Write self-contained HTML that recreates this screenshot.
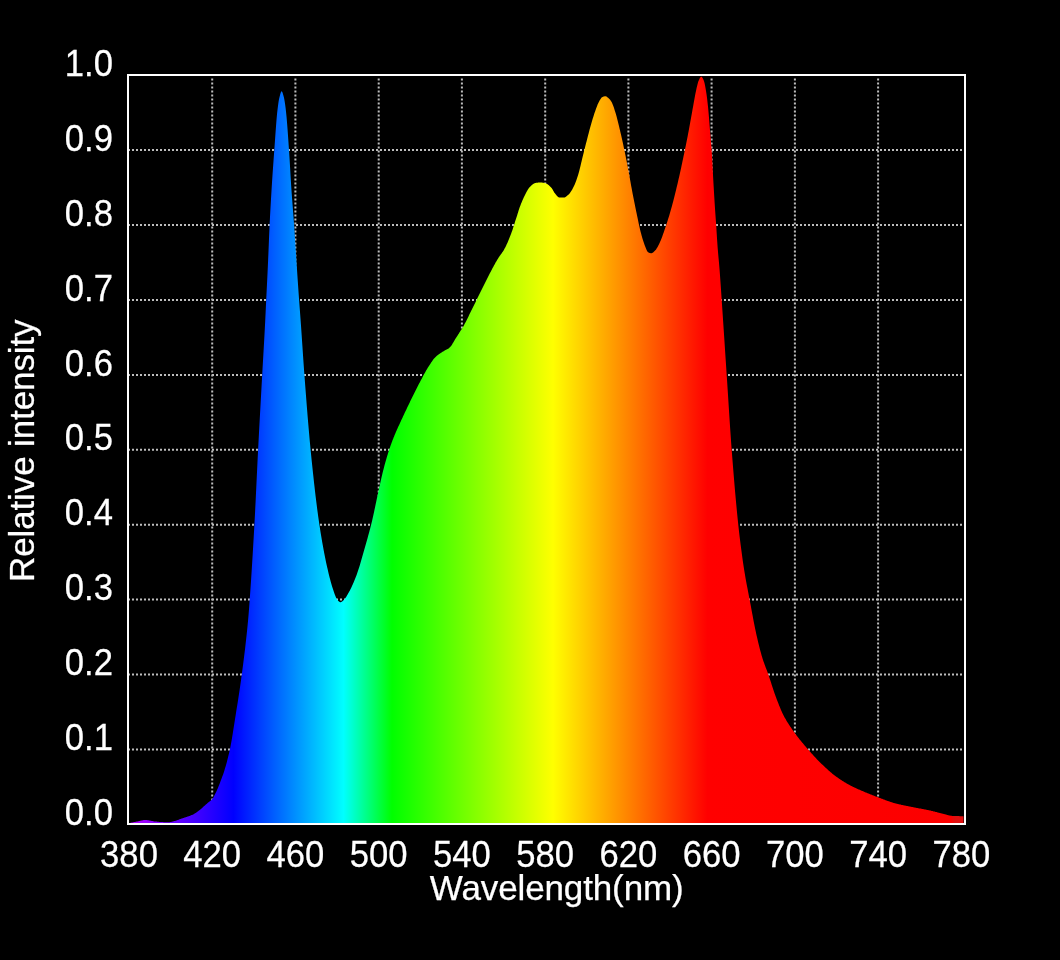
<!DOCTYPE html>
<html><head><meta charset="utf-8"><title>Spectrum</title>
<style>
html,body{margin:0;padding:0;background:#000;}
body{width:1060px;height:960px;overflow:hidden;position:relative;}
svg{position:absolute;left:0;top:0;display:block;}
text{font-family:"Liberation Sans",sans-serif;font-size:36.1px;fill:#fff;stroke:#fff;stroke-width:0.25px;}
text.t{font-size:35px;letter-spacing:-0.12px;}
.g line{stroke:#bdbdbd;stroke-width:2;stroke-dasharray:2 2;}
</style></head><body>
<svg width="1060" height="960" viewBox="0 0 1060 960">
<defs>
<linearGradient id="sp" gradientUnits="userSpaceOnUse" x1="128" y1="0" x2="966" y2="0">
<stop offset="0" stop-color="#b800ff"/>
<stop offset="0.1259" stop-color="#0000ff"/>
<stop offset="0.2572" stop-color="#00ffff"/>
<stop offset="0.3150" stop-color="#00ff00"/>
<stop offset="0.5072" stop-color="#ffff00"/>
<stop offset="0.6915" stop-color="#ff0000"/>
<stop offset="0.9821" stop-color="#fc0000"/>
<stop offset="0.9869" stop-color="#e01010"/>
<stop offset="1" stop-color="#e01010"/>
</linearGradient>
</defs>
<rect width="1060" height="960" fill="#000"/>
<g class="g"><line x1="212.2" y1="78.6" x2="212.2" y2="823"/><line x1="295.4" y1="78.6" x2="295.4" y2="823"/><line x1="378.7" y1="78.6" x2="378.7" y2="823"/><line x1="461.9" y1="78.6" x2="461.9" y2="823"/><line x1="545.2" y1="78.6" x2="545.2" y2="823"/><line x1="628.4" y1="78.6" x2="628.4" y2="823"/><line x1="711.6" y1="78.6" x2="711.6" y2="823"/><line x1="794.9" y1="78.6" x2="794.9" y2="823"/><line x1="878.1" y1="78.6" x2="878.1" y2="823"/><line x1="128" y1="749.5" x2="964" y2="749.5"/><line x1="128" y1="674.6" x2="964" y2="674.6"/><line x1="128" y1="599.6" x2="964" y2="599.6"/><line x1="128" y1="524.7" x2="964" y2="524.7"/><line x1="128" y1="449.8" x2="964" y2="449.8"/><line x1="128" y1="374.9" x2="964" y2="374.9"/><line x1="128" y1="300.0" x2="964" y2="300.0"/><line x1="128" y1="225.0" x2="964" y2="225.0"/><line x1="128" y1="150.1" x2="964" y2="150.1"/></g>
<path d="M128.6 824 L128.6 823.5 L129.1 823.3 L129.6 823.1 L130.1 823.0 L130.6 822.8 L131.1 822.7 L131.6 822.6 L132.1 822.5 L132.6 822.4 L133.1 822.3 L133.6 822.2 L134.1 822.1 L134.6 822.0 L135.1 821.9 L135.6 821.8 L136.1 821.7 L136.6 821.6 L137.1 821.5 L137.6 821.4 L138.1 821.3 L138.6 821.2 L139.1 821.0 L139.6 820.9 L140.1 820.8 L140.6 820.7 L141.1 820.6 L141.6 820.5 L142.1 820.4 L142.6 820.3 L143.1 820.2 L143.6 820.1 L144.1 820.1 L144.6 820.0 L145.1 820.0 L145.6 820.0 L146.1 820.0 L146.6 820.1 L147.1 820.1 L147.6 820.2 L148.1 820.2 L148.6 820.3 L149.1 820.4 L149.6 820.5 L150.1 820.6 L150.6 820.7 L151.1 820.8 L151.6 820.9 L152.1 821.0 L152.6 821.1 L153.1 821.2 L153.6 821.3 L154.1 821.4 L154.6 821.5 L155.1 821.5 L155.6 821.6 L156.1 821.6 L156.6 821.6 L157.1 821.7 L157.6 821.7 L158.1 821.8 L158.6 821.8 L159.1 821.9 L159.6 821.9 L160.1 821.9 L160.6 822.0 L161.1 822.0 L161.6 822.1 L162.1 822.1 L162.6 822.1 L163.1 822.1 L163.6 822.2 L164.1 822.2 L164.6 822.2 L165.1 822.2 L165.6 822.3 L166.1 822.3 L166.6 822.3 L167.1 822.3 L167.6 822.3 L168.1 822.3 L168.6 822.3 L169.1 822.2 L169.6 822.2 L170.1 822.1 L170.6 822.0 L171.1 821.9 L171.6 821.8 L172.1 821.7 L172.6 821.6 L173.1 821.4 L173.6 821.3 L174.1 821.1 L174.6 821.0 L175.1 820.9 L175.6 820.7 L176.1 820.6 L176.6 820.4 L177.1 820.3 L177.6 820.1 L178.1 819.9 L178.6 819.7 L179.1 819.5 L179.6 819.3 L180.1 819.1 L180.6 819.0 L181.1 818.8 L181.6 818.6 L182.1 818.4 L182.6 818.3 L183.1 818.1 L183.6 817.9 L184.1 817.8 L184.6 817.6 L185.1 817.5 L185.6 817.3 L186.1 817.1 L186.6 817.0 L187.1 816.8 L187.6 816.6 L188.1 816.5 L188.6 816.3 L189.1 816.1 L189.6 815.9 L190.1 815.7 L190.6 815.5 L191.1 815.3 L191.6 815.1 L192.1 814.9 L192.6 814.7 L193.1 814.5 L193.6 814.2 L194.1 813.9 L194.6 813.6 L195.1 813.3 L195.6 813.0 L196.1 812.7 L196.6 812.3 L197.1 812.0 L197.6 811.6 L198.1 811.2 L198.6 810.8 L199.1 810.5 L199.6 810.1 L200.1 809.7 L200.6 809.3 L201.1 808.8 L201.6 808.4 L202.1 807.9 L202.6 807.5 L203.1 807.0 L203.6 806.5 L204.1 806.1 L204.6 805.7 L205.1 805.2 L205.6 804.8 L206.1 804.3 L206.6 803.9 L207.1 803.5 L207.6 803.1 L208.1 802.6 L208.6 802.2 L209.1 801.8 L209.6 801.5 L210.1 801.1 L210.6 800.7 L211.1 800.3 L211.6 799.8 L212.1 799.3 L212.6 798.6 L213.1 797.9 L213.6 797.0 L214.1 796.1 L214.6 795.1 L215.1 794.1 L215.6 793.0 L216.1 791.9 L216.6 790.9 L217.1 789.8 L217.6 788.7 L218.1 787.5 L218.6 786.3 L219.1 785.0 L219.6 783.7 L220.1 782.4 L220.6 781.1 L221.1 779.7 L221.6 778.4 L222.1 777.1 L222.6 775.8 L223.1 774.4 L223.6 772.9 L224.1 771.4 L224.6 769.8 L225.1 768.1 L225.6 766.4 L226.1 764.7 L226.6 762.9 L227.1 761.1 L227.6 759.1 L228.1 757.1 L228.6 755.1 L229.1 752.9 L229.6 750.7 L230.1 748.4 L230.6 745.9 L231.1 743.2 L231.6 740.4 L232.1 737.4 L232.6 734.4 L233.1 731.3 L233.6 728.1 L234.1 724.9 L234.6 721.7 L235.1 718.5 L235.6 715.4 L236.1 712.3 L236.6 709.1 L237.1 706.0 L237.6 702.9 L238.1 699.7 L238.6 696.4 L239.1 693.2 L239.6 689.9 L240.1 686.5 L240.6 683.0 L241.1 679.4 L241.6 675.8 L242.1 672.0 L242.6 668.3 L243.1 664.5 L243.6 660.6 L244.1 656.6 L244.6 652.6 L245.1 648.4 L245.6 644.1 L246.1 639.6 L246.6 635.0 L247.1 630.2 L247.6 625.2 L248.1 620.0 L248.6 614.3 L249.1 607.9 L249.6 601.1 L250.1 594.1 L250.6 586.8 L251.1 579.4 L251.6 571.7 L252.1 563.8 L252.6 555.7 L253.1 547.3 L253.6 538.8 L254.1 530.0 L254.6 521.1 L255.1 511.5 L255.6 501.4 L256.1 491.0 L256.6 480.4 L257.1 469.9 L257.6 459.6 L258.1 449.7 L258.6 440.2 L259.1 430.8 L259.6 421.6 L260.1 412.5 L260.6 403.4 L261.1 394.4 L261.6 385.5 L262.1 376.5 L262.6 367.6 L263.1 358.9 L263.6 350.3 L264.1 341.6 L264.6 332.6 L265.1 323.0 L265.6 312.7 L266.1 302.1 L266.6 291.8 L267.1 281.8 L267.6 271.5 L268.1 260.5 L268.6 248.4 L269.1 236.2 L269.6 225.0 L270.1 215.1 L270.6 205.9 L271.1 197.2 L271.6 189.0 L272.1 181.1 L272.6 173.6 L273.1 166.4 L273.6 159.5 L274.1 152.6 L274.6 145.8 L275.1 138.7 L275.6 131.7 L276.1 125.0 L276.6 118.7 L277.1 113.3 L277.6 108.9 L278.1 105.0 L278.6 101.6 L279.1 98.8 L279.6 96.7 L280.1 94.7 L280.6 93.0 L281.1 91.8 L281.6 91.3 L282.1 91.7 L282.6 92.8 L283.1 94.5 L283.6 96.3 L284.1 98.3 L284.6 101.0 L285.1 104.3 L285.6 108.1 L286.1 112.4 L286.6 117.5 L287.1 123.5 L287.6 130.0 L288.1 137.0 L288.6 144.2 L289.1 151.5 L289.6 159.3 L290.1 167.7 L290.6 176.2 L291.1 184.4 L291.6 191.9 L292.1 198.7 L292.6 205.2 L293.1 211.6 L293.6 218.1 L294.1 225.0 L294.6 232.4 L295.1 240.1 L295.6 247.9 L296.1 255.8 L296.6 263.5 L297.1 271.0 L297.6 278.4 L298.1 285.7 L298.6 293.0 L299.1 300.0 L299.6 306.7 L300.1 313.3 L300.6 320.0 L301.1 327.0 L301.6 334.3 L302.1 341.7 L302.6 349.1 L303.1 356.5 L303.6 363.7 L304.1 370.7 L304.6 377.3 L305.1 383.9 L305.6 390.5 L306.1 397.0 L306.6 403.4 L307.1 409.7 L307.6 415.9 L308.1 421.9 L308.6 427.8 L309.1 433.6 L309.6 439.2 L310.1 444.5 L310.6 449.7 L311.1 454.7 L311.6 459.7 L312.1 464.5 L312.6 469.3 L313.1 474.0 L313.6 478.6 L314.1 483.2 L314.6 487.6 L315.1 491.9 L315.6 496.2 L316.1 500.3 L316.6 504.3 L317.1 508.2 L317.6 512.0 L318.1 515.7 L318.6 519.3 L319.1 522.7 L319.6 526.0 L320.1 529.2 L320.6 532.4 L321.1 535.5 L321.6 538.5 L322.1 541.4 L322.6 544.3 L323.1 547.1 L323.6 549.8 L324.1 552.4 L324.6 555.0 L325.1 557.5 L325.6 560.0 L326.1 562.4 L326.6 564.7 L327.1 566.9 L327.6 569.1 L328.1 571.3 L328.6 573.4 L329.1 575.4 L329.6 577.4 L330.1 579.3 L330.6 581.2 L331.1 583.0 L331.6 584.7 L332.1 586.4 L332.6 588.0 L333.1 589.5 L333.6 591.0 L334.1 592.4 L334.6 593.9 L335.1 595.3 L335.6 596.6 L336.1 597.8 L336.6 598.7 L337.1 599.4 L337.6 600.1 L338.1 600.7 L338.6 601.2 L339.1 601.6 L339.6 602.0 L340.1 602.2 L340.6 602.2 L341.1 602.1 L341.6 601.8 L342.1 601.5 L342.6 601.1 L343.1 600.6 L343.6 600.2 L344.1 599.7 L344.6 599.2 L345.1 598.5 L345.6 597.8 L346.1 597.0 L346.6 596.2 L347.1 595.3 L347.6 594.5 L348.1 593.6 L348.6 592.8 L349.1 591.8 L349.6 590.9 L350.1 589.9 L350.6 588.9 L351.1 587.9 L351.6 586.9 L352.1 585.8 L352.6 584.7 L353.1 583.6 L353.6 582.4 L354.1 581.2 L354.6 580.0 L355.1 578.8 L355.6 577.5 L356.1 576.3 L356.6 574.9 L357.1 573.6 L357.6 572.1 L358.1 570.6 L358.6 569.1 L359.1 567.5 L359.6 565.9 L360.1 564.2 L360.6 562.5 L361.1 560.8 L361.6 559.1 L362.1 557.3 L362.6 555.6 L363.1 553.8 L363.6 552.0 L364.1 550.2 L364.6 548.5 L365.1 546.7 L365.6 545.0 L366.1 543.2 L366.6 541.5 L367.1 539.7 L367.6 537.9 L368.1 536.1 L368.6 534.3 L369.1 532.5 L369.6 530.6 L370.1 528.7 L370.6 526.8 L371.1 524.8 L371.6 522.8 L372.1 520.7 L372.6 518.6 L373.1 516.3 L373.6 514.0 L374.1 511.7 L374.6 509.3 L375.1 506.9 L375.6 504.5 L376.1 502.2 L376.6 499.8 L377.1 497.5 L377.6 495.3 L378.1 492.9 L378.6 490.6 L379.1 488.3 L379.6 486.0 L380.1 483.7 L380.6 481.4 L381.1 479.2 L381.6 477.0 L382.1 474.9 L382.6 472.8 L383.1 470.8 L383.6 468.9 L384.1 466.9 L384.6 465.1 L385.1 463.2 L385.6 461.5 L386.1 459.7 L386.6 458.0 L387.1 456.3 L387.6 454.7 L388.1 453.1 L388.6 451.5 L389.1 450.0 L389.6 448.5 L390.1 447.0 L390.6 445.6 L391.1 444.2 L391.6 442.8 L392.1 441.5 L392.6 440.1 L393.1 438.9 L393.6 437.6 L394.1 436.4 L394.6 435.1 L395.1 433.9 L395.6 432.8 L396.1 431.6 L396.6 430.5 L397.1 429.3 L397.6 428.2 L398.1 427.1 L398.6 426.0 L399.1 425.0 L399.6 423.9 L400.1 422.8 L400.6 421.7 L401.1 420.6 L401.6 419.5 L402.1 418.5 L402.6 417.4 L403.1 416.3 L403.6 415.2 L404.1 414.2 L404.6 413.1 L405.1 412.1 L405.6 411.0 L406.1 409.9 L406.6 408.9 L407.1 407.8 L407.6 406.8 L408.1 405.8 L408.6 404.7 L409.1 403.7 L409.6 402.7 L410.1 401.6 L410.6 400.6 L411.1 399.6 L411.6 398.6 L412.1 397.5 L412.6 396.5 L413.1 395.5 L413.6 394.5 L414.1 393.5 L414.6 392.5 L415.1 391.5 L415.6 390.5 L416.1 389.5 L416.6 388.5 L417.1 387.5 L417.6 386.5 L418.1 385.5 L418.6 384.6 L419.1 383.6 L419.6 382.7 L420.1 381.7 L420.6 380.8 L421.1 379.8 L421.6 378.9 L422.1 377.9 L422.6 377.0 L423.1 376.0 L423.6 375.1 L424.1 374.2 L424.6 373.3 L425.1 372.4 L425.6 371.5 L426.1 370.6 L426.6 369.8 L427.1 368.9 L427.6 368.1 L428.1 367.3 L428.6 366.5 L429.1 365.7 L429.6 365.0 L430.1 364.2 L430.6 363.4 L431.1 362.6 L431.6 361.9 L432.1 361.2 L432.6 360.5 L433.1 359.8 L433.6 359.1 L434.1 358.5 L434.6 357.9 L435.1 357.4 L435.6 356.9 L436.1 356.4 L436.6 356.0 L437.1 355.6 L437.6 355.2 L438.1 354.8 L438.6 354.4 L439.1 354.1 L439.6 353.7 L440.1 353.4 L440.6 353.1 L441.1 352.8 L441.6 352.5 L442.1 352.1 L442.6 351.8 L443.1 351.5 L443.6 351.2 L444.1 350.9 L444.6 350.6 L445.1 350.3 L445.6 350.1 L446.1 349.8 L446.6 349.5 L447.1 349.3 L447.6 349.0 L448.1 348.7 L448.6 348.4 L449.1 348.0 L449.6 347.6 L450.1 347.1 L450.6 346.6 L451.1 345.9 L451.6 345.2 L452.1 344.4 L452.6 343.6 L453.1 342.8 L453.6 341.9 L454.1 341.0 L454.6 340.2 L455.1 339.3 L455.6 338.5 L456.1 337.7 L456.6 336.9 L457.1 336.2 L457.6 335.4 L458.1 334.6 L458.6 333.9 L459.1 333.1 L459.6 332.3 L460.1 331.6 L460.6 330.8 L461.1 330.0 L461.6 329.2 L462.1 328.4 L462.6 327.6 L463.1 326.7 L463.6 325.9 L464.1 325.0 L464.6 324.1 L465.1 323.1 L465.6 322.2 L466.1 321.2 L466.6 320.2 L467.1 319.2 L467.6 318.2 L468.1 317.2 L468.6 316.2 L469.1 315.1 L469.6 314.1 L470.1 313.1 L470.6 312.0 L471.1 311.0 L471.6 310.0 L472.1 308.9 L472.6 307.9 L473.1 306.9 L473.6 305.9 L474.1 304.9 L474.6 303.9 L475.1 302.9 L475.6 301.9 L476.1 300.9 L476.6 299.9 L477.1 298.8 L477.6 297.8 L478.1 296.8 L478.6 295.8 L479.1 294.8 L479.6 293.8 L480.1 292.8 L480.6 291.8 L481.1 290.8 L481.6 289.8 L482.1 288.8 L482.6 287.8 L483.1 286.8 L483.6 285.8 L484.1 284.8 L484.6 283.8 L485.1 282.8 L485.6 281.8 L486.1 280.8 L486.6 279.8 L487.1 278.7 L487.6 277.7 L488.1 276.7 L488.6 275.8 L489.1 274.8 L489.6 273.8 L490.1 272.8 L490.6 271.9 L491.1 270.9 L491.6 270.0 L492.1 269.0 L492.6 268.1 L493.1 267.2 L493.6 266.3 L494.1 265.3 L494.6 264.4 L495.1 263.5 L495.6 262.6 L496.1 261.8 L496.6 260.9 L497.1 260.1 L497.6 259.2 L498.1 258.4 L498.6 257.6 L499.1 256.9 L499.6 256.1 L500.1 255.4 L500.6 254.7 L501.1 254.0 L501.6 253.4 L502.1 252.6 L502.6 251.9 L503.1 251.2 L503.6 250.4 L504.1 249.5 L504.6 248.6 L505.1 247.7 L505.6 246.7 L506.1 245.7 L506.6 244.6 L507.1 243.5 L507.6 242.4 L508.1 241.2 L508.6 240.0 L509.1 238.8 L509.6 237.5 L510.1 236.3 L510.6 235.0 L511.1 233.7 L511.6 232.3 L512.1 230.9 L512.6 229.4 L513.1 227.9 L513.6 226.3 L514.1 224.8 L514.6 223.2 L515.1 221.6 L515.6 220.0 L516.1 218.5 L516.6 216.9 L517.1 215.4 L517.6 213.8 L518.1 212.2 L518.6 210.6 L519.1 209.1 L519.6 207.6 L520.1 206.2 L520.6 204.9 L521.1 203.6 L521.6 202.4 L522.1 201.2 L522.6 200.0 L523.1 198.9 L523.6 197.8 L524.1 196.8 L524.6 195.8 L525.1 194.8 L525.6 193.8 L526.1 192.8 L526.6 191.8 L527.1 190.9 L527.6 190.0 L528.1 189.2 L528.6 188.5 L529.1 187.8 L529.6 187.2 L530.1 186.7 L530.6 186.2 L531.1 185.7 L531.6 185.3 L532.1 184.8 L532.6 184.4 L533.1 184.0 L533.6 183.7 L534.1 183.4 L534.6 183.2 L535.1 183.0 L535.6 182.9 L536.1 182.8 L536.6 182.8 L537.1 182.7 L537.6 182.7 L538.1 182.6 L538.6 182.6 L539.1 182.5 L539.6 182.5 L540.1 182.5 L540.6 182.5 L541.1 182.5 L541.6 182.5 L542.1 182.6 L542.6 182.7 L543.1 182.7 L543.6 182.8 L544.1 183.0 L544.6 183.1 L545.1 183.2 L545.6 183.4 L546.1 183.5 L546.6 183.7 L547.1 184.0 L547.6 184.3 L548.1 184.7 L548.6 185.1 L549.1 185.5 L549.6 186.0 L550.1 186.5 L550.6 187.0 L551.1 187.5 L551.6 188.1 L552.1 188.8 L552.6 189.6 L553.1 190.5 L553.6 191.3 L554.1 192.2 L554.6 193.0 L555.1 193.6 L555.6 194.2 L556.1 194.8 L556.6 195.4 L557.1 195.9 L557.6 196.4 L558.1 196.9 L558.6 197.2 L559.1 197.4 L559.6 197.5 L560.1 197.5 L560.6 197.5 L561.1 197.5 L561.6 197.5 L562.1 197.5 L562.6 197.5 L563.1 197.5 L563.6 197.5 L564.1 197.5 L564.6 197.4 L565.1 197.2 L565.6 196.9 L566.1 196.6 L566.6 196.2 L567.1 195.8 L567.6 195.3 L568.1 194.9 L568.6 194.4 L569.1 193.9 L569.6 193.4 L570.1 192.8 L570.6 192.1 L571.1 191.3 L571.6 190.5 L572.1 189.7 L572.6 188.8 L573.1 187.8 L573.6 186.8 L574.1 185.8 L574.6 184.7 L575.1 183.6 L575.6 182.3 L576.1 180.9 L576.6 179.5 L577.1 178.0 L577.6 176.5 L578.1 174.9 L578.6 173.2 L579.1 171.4 L579.6 169.5 L580.1 167.5 L580.6 165.4 L581.1 163.3 L581.6 161.2 L582.1 159.1 L582.6 157.1 L583.1 155.1 L583.6 153.1 L584.1 151.1 L584.6 149.1 L585.1 147.1 L585.6 145.1 L586.1 143.1 L586.6 141.2 L587.1 139.2 L587.6 137.3 L588.1 135.3 L588.6 133.4 L589.1 131.4 L589.6 129.6 L590.1 127.7 L590.6 125.9 L591.1 124.2 L591.6 122.4 L592.1 120.7 L592.6 119.1 L593.1 117.4 L593.6 115.9 L594.1 114.3 L594.6 112.8 L595.1 111.4 L595.6 110.0 L596.1 108.6 L596.6 107.2 L597.1 105.9 L597.6 104.6 L598.1 103.5 L598.6 102.4 L599.1 101.4 L599.6 100.6 L600.1 99.7 L600.6 98.9 L601.1 98.2 L601.6 97.6 L602.1 97.2 L602.6 97.0 L603.1 96.8 L603.6 96.6 L604.1 96.4 L604.6 96.3 L605.1 96.3 L605.6 96.3 L606.1 96.4 L606.6 96.6 L607.1 97.0 L607.6 97.4 L608.1 97.8 L608.6 98.2 L609.1 98.7 L609.6 99.2 L610.1 99.8 L610.6 100.5 L611.1 101.3 L611.6 102.1 L612.1 103.1 L612.6 104.2 L613.1 105.4 L613.6 106.8 L614.1 108.3 L614.6 109.9 L615.1 111.5 L615.6 113.1 L616.1 114.8 L616.6 116.5 L617.1 118.4 L617.6 120.4 L618.1 122.4 L618.6 124.5 L619.1 126.6 L619.6 128.7 L620.1 130.8 L620.6 132.9 L621.1 135.1 L621.6 137.3 L622.1 139.5 L622.6 141.8 L623.1 144.1 L623.6 146.4 L624.1 148.7 L624.6 151.1 L625.1 153.6 L625.6 156.1 L626.1 158.6 L626.6 161.1 L627.1 163.7 L627.6 166.3 L628.1 168.9 L628.6 171.6 L629.1 174.3 L629.6 177.0 L630.1 179.8 L630.6 182.6 L631.1 185.4 L631.6 188.1 L632.1 190.8 L632.6 193.4 L633.1 196.0 L633.6 198.5 L634.1 201.1 L634.6 203.6 L635.1 206.0 L635.6 208.5 L636.1 210.9 L636.6 213.3 L637.1 215.7 L637.6 218.1 L638.1 220.5 L638.6 222.9 L639.1 225.3 L639.6 227.5 L640.1 229.7 L640.6 231.7 L641.1 233.6 L641.6 235.5 L642.1 237.2 L642.6 238.9 L643.1 240.6 L643.6 242.1 L644.1 243.6 L644.6 245.0 L645.1 246.2 L645.6 247.5 L646.1 248.8 L646.6 250.0 L647.1 251.0 L647.6 251.8 L648.1 252.3 L648.6 252.6 L649.1 252.8 L649.6 253.0 L650.1 253.1 L650.6 253.2 L651.1 253.3 L651.6 253.3 L652.1 253.1 L652.6 252.8 L653.1 252.5 L653.6 252.0 L654.1 251.6 L654.6 251.0 L655.1 250.5 L655.6 250.0 L656.1 249.4 L656.6 248.6 L657.1 247.8 L657.6 246.9 L658.1 246.0 L658.6 245.0 L659.1 243.9 L659.6 242.9 L660.1 241.8 L660.6 240.7 L661.1 239.5 L661.6 238.2 L662.1 236.9 L662.6 235.5 L663.1 234.1 L663.6 232.7 L664.1 231.3 L664.6 229.8 L665.1 228.3 L665.6 226.8 L666.1 225.4 L666.6 223.8 L667.1 222.3 L667.6 220.7 L668.1 219.1 L668.6 217.5 L669.1 215.9 L669.6 214.2 L670.1 212.5 L670.6 210.7 L671.1 209.0 L671.6 207.2 L672.1 205.4 L672.6 203.6 L673.1 201.7 L673.6 199.8 L674.1 197.8 L674.6 195.8 L675.1 193.8 L675.6 191.8 L676.1 189.7 L676.6 187.6 L677.1 185.5 L677.6 183.4 L678.1 181.3 L678.6 179.1 L679.1 176.9 L679.6 174.7 L680.1 172.4 L680.6 170.2 L681.1 167.9 L681.6 165.5 L682.1 163.2 L682.6 160.8 L683.1 158.5 L683.6 156.1 L684.1 153.7 L684.6 151.2 L685.1 148.8 L685.6 146.4 L686.1 143.9 L686.6 141.4 L687.1 138.9 L687.6 136.4 L688.1 133.8 L688.6 131.2 L689.1 128.5 L689.6 125.8 L690.1 123.1 L690.6 120.3 L691.1 117.5 L691.6 114.7 L692.1 111.9 L692.6 109.1 L693.1 106.4 L693.6 103.6 L694.1 100.7 L694.6 97.9 L695.1 95.2 L695.6 92.7 L696.1 90.4 L696.6 88.1 L697.1 85.9 L697.6 83.9 L698.1 82.1 L698.6 80.7 L699.1 79.7 L699.6 78.6 L700.1 77.7 L700.6 77.1 L701.1 76.7 L701.6 76.8 L702.1 77.3 L702.6 78.0 L703.1 79.0 L703.6 80.1 L704.1 81.4 L704.6 83.3 L705.1 85.7 L705.6 88.5 L706.1 91.4 L706.6 94.7 L707.1 98.6 L707.6 102.9 L708.1 107.5 L708.6 112.9 L709.1 119.0 L709.6 125.4 L710.1 131.6 L710.6 137.4 L711.1 143.3 L711.6 149.8 L712.1 157.8 L712.6 167.2 L713.1 176.8 L713.6 185.6 L714.1 194.1 L714.6 202.3 L715.1 209.9 L715.6 217.0 L716.1 224.0 L716.6 231.7 L717.1 239.7 L717.6 247.0 L718.1 253.1 L718.6 258.6 L719.1 264.1 L719.6 270.0 L720.1 276.7 L720.6 283.8 L721.1 291.1 L721.6 298.5 L722.1 305.9 L722.6 313.2 L723.1 320.7 L723.6 328.2 L724.1 335.7 L724.6 343.3 L725.1 350.9 L725.6 358.4 L726.1 366.0 L726.6 373.5 L727.1 381.1 L727.6 388.8 L728.1 396.6 L728.6 404.4 L729.1 412.2 L729.6 419.9 L730.1 427.5 L730.6 434.8 L731.1 441.9 L731.6 448.7 L732.1 455.2 L732.6 461.6 L733.1 467.8 L733.6 474.0 L734.1 480.0 L734.6 485.9 L735.1 491.7 L735.6 497.3 L736.1 502.8 L736.6 508.1 L737.1 513.3 L737.6 518.3 L738.1 523.1 L738.6 527.8 L739.1 532.2 L739.6 536.4 L740.1 540.5 L740.6 544.4 L741.1 548.3 L741.6 552.0 L742.1 555.7 L742.6 559.4 L743.1 562.9 L743.6 566.3 L744.1 569.6 L744.6 572.6 L745.1 575.6 L745.6 578.4 L746.1 581.2 L746.6 583.9 L747.1 586.5 L747.6 589.1 L748.1 591.7 L748.6 594.3 L749.1 596.9 L749.6 599.5 L750.1 602.2 L750.6 604.8 L751.1 607.5 L751.6 610.3 L752.1 612.9 L752.6 615.6 L753.1 618.3 L753.6 620.9 L754.1 623.5 L754.6 626.0 L755.1 628.5 L755.6 630.8 L756.1 633.2 L756.6 635.4 L757.1 637.6 L757.6 639.7 L758.1 641.9 L758.6 644.0 L759.1 646.0 L759.6 648.0 L760.1 649.9 L760.6 651.8 L761.1 653.6 L761.6 655.4 L762.1 657.1 L762.6 658.7 L763.1 660.3 L763.6 661.7 L764.1 663.1 L764.6 664.5 L765.1 665.8 L765.6 667.2 L766.1 668.5 L766.6 669.8 L767.1 671.1 L767.6 672.4 L768.1 673.8 L768.6 675.3 L769.1 676.7 L769.6 678.2 L770.1 679.7 L770.6 681.3 L771.1 682.8 L771.6 684.4 L772.1 685.9 L772.6 687.4 L773.1 689.0 L773.6 690.5 L774.1 691.9 L774.6 693.4 L775.1 694.8 L775.6 696.2 L776.1 697.5 L776.6 698.9 L777.1 700.2 L777.6 701.5 L778.1 702.8 L778.6 704.1 L779.1 705.4 L779.6 706.6 L780.1 707.8 L780.6 709.0 L781.1 710.2 L781.6 711.3 L782.1 712.4 L782.6 713.5 L783.1 714.5 L783.6 715.5 L784.1 716.4 L784.6 717.4 L785.1 718.3 L785.6 719.1 L786.1 720.0 L786.6 720.9 L787.1 721.7 L787.6 722.5 L788.1 723.3 L788.6 724.1 L789.1 724.9 L789.6 725.6 L790.1 726.4 L790.6 727.1 L791.1 727.8 L791.6 728.6 L792.1 729.3 L792.6 730.0 L793.1 730.7 L793.6 731.4 L794.1 732.1 L794.6 732.8 L795.1 733.5 L795.6 734.2 L796.1 734.8 L796.6 735.5 L797.1 736.2 L797.6 736.8 L798.1 737.5 L798.6 738.1 L799.1 738.8 L799.6 739.4 L800.1 740.0 L800.6 740.6 L801.1 741.2 L801.6 741.8 L802.1 742.5 L802.6 743.1 L803.1 743.6 L803.6 744.2 L804.1 744.8 L804.6 745.4 L805.1 746.0 L805.6 746.6 L806.1 747.2 L806.6 747.7 L807.1 748.3 L807.6 748.9 L808.1 749.5 L808.6 750.1 L809.1 750.6 L809.6 751.2 L810.1 751.8 L810.6 752.3 L811.1 752.9 L811.6 753.4 L812.1 754.0 L812.6 754.6 L813.1 755.1 L813.6 755.7 L814.1 756.2 L814.6 756.7 L815.1 757.3 L815.6 757.8 L816.1 758.3 L816.6 758.9 L817.1 759.4 L817.6 759.9 L818.1 760.4 L818.6 760.9 L819.1 761.4 L819.6 761.9 L820.1 762.4 L820.6 762.9 L821.1 763.4 L821.6 763.9 L822.1 764.4 L822.6 764.8 L823.1 765.3 L823.6 765.8 L824.1 766.3 L824.6 766.8 L825.1 767.2 L825.6 767.7 L826.1 768.2 L826.6 768.6 L827.1 769.1 L827.6 769.6 L828.1 770.0 L828.6 770.5 L829.1 770.9 L829.6 771.3 L830.1 771.8 L830.6 772.2 L831.1 772.6 L831.6 773.0 L832.1 773.5 L832.6 773.9 L833.1 774.3 L833.6 774.7 L834.1 775.0 L834.6 775.4 L835.1 775.8 L835.6 776.2 L836.1 776.5 L836.6 776.9 L837.1 777.3 L837.6 777.6 L838.1 778.0 L838.6 778.3 L839.1 778.7 L839.6 779.0 L840.1 779.3 L840.6 779.7 L841.1 780.0 L841.6 780.3 L842.1 780.7 L842.6 781.0 L843.1 781.3 L843.6 781.6 L844.1 781.9 L844.6 782.2 L845.1 782.5 L845.6 782.8 L846.1 783.1 L846.6 783.4 L847.1 783.7 L847.6 784.0 L848.1 784.3 L848.6 784.5 L849.1 784.8 L849.6 785.1 L850.1 785.4 L850.6 785.6 L851.1 785.9 L851.6 786.1 L852.1 786.4 L852.6 786.6 L853.1 786.9 L853.6 787.1 L854.1 787.4 L854.6 787.6 L855.1 787.8 L855.6 788.1 L856.1 788.3 L856.6 788.5 L857.1 788.7 L857.6 789.0 L858.1 789.2 L858.6 789.4 L859.1 789.6 L859.6 789.8 L860.1 790.1 L860.6 790.3 L861.1 790.5 L861.6 790.7 L862.1 790.9 L862.6 791.1 L863.1 791.3 L863.6 791.6 L864.1 791.8 L864.6 792.0 L865.1 792.2 L865.6 792.4 L866.1 792.6 L866.6 792.8 L867.1 793.0 L867.6 793.2 L868.1 793.4 L868.6 793.6 L869.1 793.8 L869.6 794.0 L870.1 794.2 L870.6 794.4 L871.1 794.6 L871.6 794.8 L872.1 795.0 L872.6 795.2 L873.1 795.4 L873.6 795.6 L874.1 795.8 L874.6 796.0 L875.1 796.2 L875.6 796.4 L876.1 796.6 L876.6 796.8 L877.1 797.0 L877.6 797.1 L878.1 797.3 L878.6 797.5 L879.1 797.7 L879.6 797.9 L880.1 798.1 L880.6 798.3 L881.1 798.5 L881.6 798.7 L882.1 798.8 L882.6 799.0 L883.1 799.2 L883.6 799.4 L884.1 799.6 L884.6 799.8 L885.1 800.0 L885.6 800.2 L886.1 800.4 L886.6 800.5 L887.1 800.7 L887.6 800.9 L888.1 801.1 L888.6 801.3 L889.1 801.4 L889.6 801.6 L890.1 801.8 L890.6 801.9 L891.1 802.1 L891.6 802.3 L892.1 802.4 L892.6 802.6 L893.1 802.7 L893.6 802.9 L894.1 803.0 L894.6 803.2 L895.1 803.3 L895.6 803.4 L896.1 803.6 L896.6 803.7 L897.1 803.8 L897.6 803.9 L898.1 804.1 L898.6 804.2 L899.1 804.3 L899.6 804.4 L900.1 804.5 L900.6 804.6 L901.1 804.7 L901.6 804.9 L902.1 805.0 L902.6 805.1 L903.1 805.2 L903.6 805.3 L904.1 805.4 L904.6 805.5 L905.1 805.6 L905.6 805.7 L906.1 805.8 L906.6 805.9 L907.1 806.0 L907.6 806.1 L908.1 806.2 L908.6 806.3 L909.1 806.4 L909.6 806.5 L910.1 806.6 L910.6 806.7 L911.1 806.8 L911.6 806.9 L912.1 807.0 L912.6 807.1 L913.1 807.2 L913.6 807.3 L914.1 807.4 L914.6 807.5 L915.1 807.6 L915.6 807.7 L916.1 807.8 L916.6 807.9 L917.1 808.0 L917.6 808.1 L918.1 808.2 L918.6 808.3 L919.1 808.4 L919.6 808.5 L920.1 808.5 L920.6 808.6 L921.1 808.7 L921.6 808.8 L922.1 808.9 L922.6 809.0 L923.1 809.1 L923.6 809.2 L924.1 809.3 L924.6 809.4 L925.1 809.5 L925.6 809.6 L926.1 809.7 L926.6 809.8 L927.1 809.9 L927.6 810.0 L928.1 810.1 L928.6 810.2 L929.1 810.3 L929.6 810.4 L930.1 810.5 L930.6 810.6 L931.1 810.8 L931.6 810.9 L932.1 811.0 L932.6 811.1 L933.1 811.2 L933.6 811.4 L934.1 811.5 L934.6 811.6 L935.1 811.7 L935.6 811.9 L936.1 812.0 L936.6 812.1 L937.1 812.3 L937.6 812.4 L938.1 812.5 L938.6 812.7 L939.1 812.8 L939.6 812.9 L940.1 813.1 L940.6 813.2 L941.1 813.3 L941.6 813.5 L942.1 813.6 L942.6 813.7 L943.1 813.8 L943.6 813.9 L944.1 814.1 L944.6 814.2 L945.1 814.3 L945.6 814.5 L946.1 814.6 L946.6 814.7 L947.1 814.9 L947.6 815.0 L948.1 815.2 L948.6 815.3 L949.1 815.4 L949.6 815.5 L950.1 815.6 L950.6 815.7 L951.1 815.8 L951.6 815.8 L952.1 815.9 L952.6 815.9 L953.1 815.9 L953.6 816.0 L954.1 816.0 L954.6 816.0 L955.1 816.0 L955.6 816.0 L956.1 816.1 L956.6 816.1 L957.1 816.1 L957.6 816.1 L958.1 816.1 L958.6 816.1 L959.1 816.1 L959.6 816.2 L960.1 816.2 L960.6 816.2 L961.1 816.2 L961.6 816.2 L962.1 816.2 L962.6 816.2 L963.1 816.2 L963.5 816.2 L963.5 824 Z" fill="url(#sp)"/>
<rect x="128" y="75" width="837" height="749" fill="none" stroke="#fff" stroke-width="2"/>
<g text-anchor="middle"><text transform="translate(129.0 867.2) scale(.96 1)">380</text><text transform="translate(212.2 867.2) scale(.96 1)">420</text><text transform="translate(295.4 867.2) scale(.96 1)">460</text><text transform="translate(378.7 867.2) scale(.96 1)">500</text><text transform="translate(461.9 867.2) scale(.96 1)">540</text><text transform="translate(545.2 867.2) scale(.96 1)">580</text><text transform="translate(628.4 867.2) scale(.96 1)">620</text><text transform="translate(711.6 867.2) scale(.96 1)">660</text><text transform="translate(794.9 867.2) scale(.96 1)">700</text><text transform="translate(878.1 867.2) scale(.96 1)">740</text><text transform="translate(961.4 867.2) scale(.96 1)">780</text></g>
<g text-anchor="end"><text transform="translate(113 825.0) scale(.96 1)">0.0</text><text transform="translate(113 750.1) scale(.96 1)">0.1</text><text transform="translate(113 675.2) scale(.96 1)">0.2</text><text transform="translate(113 600.2) scale(.96 1)">0.3</text><text transform="translate(113 525.3) scale(.96 1)">0.4</text><text transform="translate(113 450.4) scale(.96 1)">0.5</text><text transform="translate(113 375.5) scale(.96 1)">0.6</text><text transform="translate(113 300.6) scale(.96 1)">0.7</text><text transform="translate(113 225.6) scale(.96 1)">0.8</text><text transform="translate(113 150.7) scale(.96 1)">0.9</text><text transform="translate(113 75.8) scale(.96 1)">1.0</text></g>
<text class="t" x="556.7" y="900" text-anchor="middle">Wavelength(nm)</text>
<text class="t" transform="translate(33.9 450.8) rotate(-90)" text-anchor="middle">Relative intensity</text>
</svg>
</body></html>
